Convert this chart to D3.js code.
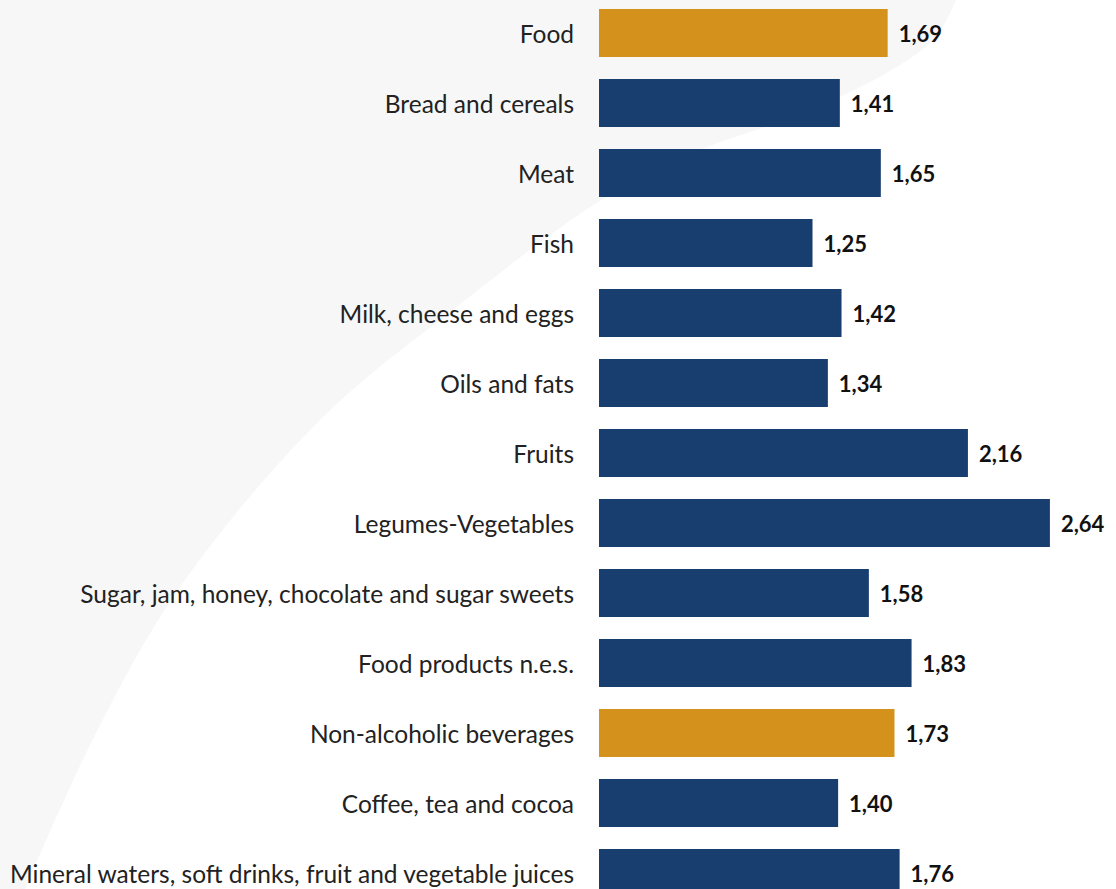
<!DOCTYPE html>
<html>
<head>
<meta charset="utf-8">
<script src="https://cdn.jsdelivr.net/npm/d3@7"></script>
<style>
  html, body { margin: 0; padding: 0; background: #fff; }
  svg { display: block; }
</style>
</head>
<body>
<svg id="chart" width="1116" height="889"></svg>
<script>
// price index by category
var categories = [
  "Food",
  "Bread and cereals",
  "Meat",
  "Fish",
  "Milk, cheese and eggs",
  "Oils and fats",
  "Fruits",
  "Legumes-Vegetables",
  "Sugar, jam, honey, chocolate and sugar sweets",
  "Food products n.e.s.",
  "Non-alcoholic beverages",
  "Coffee, tea and cocoa",
  "Mineral waters, soft drinks, fruit and vegetable juices"
];
var values = [1.69, 1.41, 1.65, 1.25, 1.42, 1.34, 2.16, 2.64, 1.58, 1.83, 1.73, 1.40, 1.76];
// main groups get the gold colour
var highlighted = ["Food", "Non-alcoholic beverages"];

// backdrop swoosh outline
var swoosh = [[956, 0], [935, 38], [883, 75], [790, 118], [700, 150], [603, 199],
  [450, 312], [320, 420], [180, 587], [95, 735], [25, 889]];

var svg = d3.select("#chart");

// gray background shape
svg.append("path")
  .attr("d", d3.line().curve(d3.curveCatmullRom)(swoosh) + "L0,889L0,0Z")
  .attr("fill", "#f7f7f7");

var x = d3.scaleLinear().domain([0, 3]).range([599, 599 + 3 * 170.8]);
var y = d3.scaleBand().domain(categories).range([9, 897]).paddingInner(22 / 70).paddingOuter(0);

var fmt = function (v) { return d3.format(".2f")(v).replace(".", ","); };

var rows = svg.selectAll("g.row")
  .data(categories)
  .join("g")
  .attr("class", "row");

rows.append("rect")
  .attr("x", x(0))
  .attr("y", function (d) { return y(d); })
  .attr("width", function (d, i) { return x(values[i]) - x(0); })
  .attr("height", y.bandwidth())
  .attr("fill", function (d) { return highlighted.indexOf(d) >= 0 ? "#d4911c" : "#183e6f"; });

rows.append("text")
  .attr("x", x(0) - 25)
  .attr("y", function (d) { return y(d) + y.bandwidth() / 2 + 1; })
  .attr("dy", "0.35em")
  .attr("text-anchor", "end")
  .attr("font-family", "Lato, sans-serif")
  .attr("font-size", 24.5)
  .attr("font-weight", 400)
  .attr("fill", "#222")
  .text(function (d) { return d; });

rows.append("text")
  .attr("x", function (d, i) { return x(values[i]) + 11; })
  .attr("y", function (d) { return y(d) + y.bandwidth() / 2 + 1.5; })
  .attr("dy", "0.35em")
  .attr("font-family", "Lato, sans-serif")
  .attr("font-size", 22)
  .attr("font-weight", 700)
  .attr("fill", "#111")
  .text(function (d, i) { return fmt(values[i]); });
</script>
</body>
</html>
